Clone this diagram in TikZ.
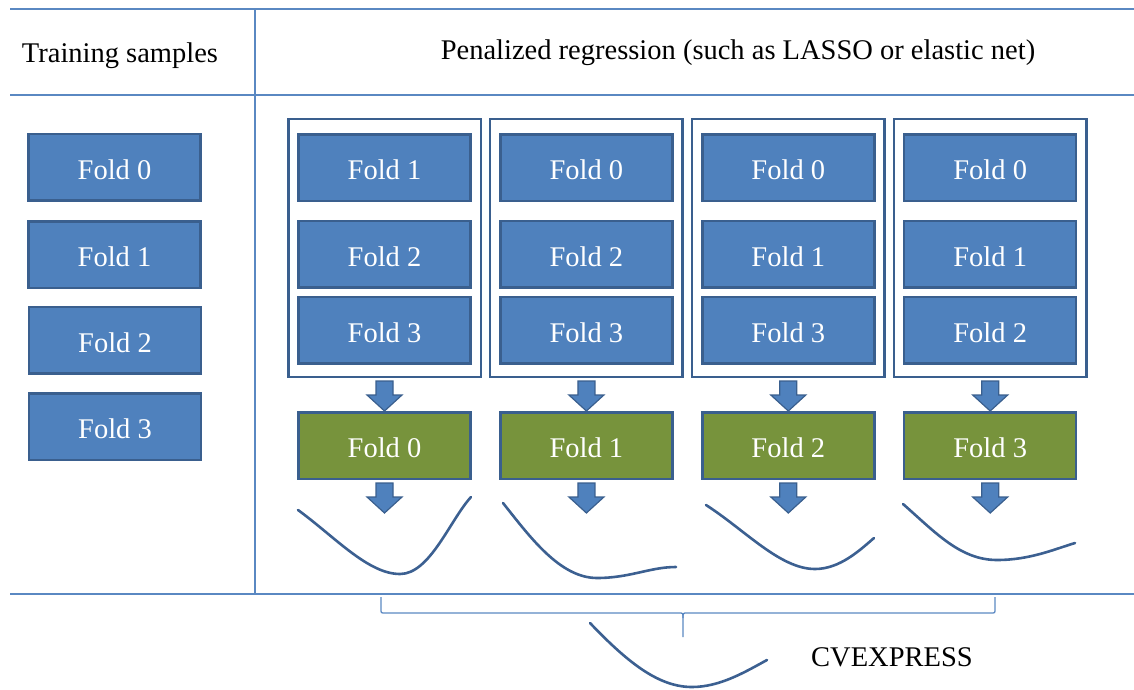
\documentclass[tikz,border=0pt]{standalone}
\usepackage{fontspec}
\setmainfont{Liberation Serif}
\usetikzlibrary{calc}
\definecolor{boxblue}{HTML}{4F81BD}
\definecolor{boxedge}{HTML}{3A5F8E}
\definecolor{boxgreen}{HTML}{77933C}
\definecolor{linecol}{HTML}{5A88C2}
\definecolor{curvecol}{HTML}{3C6091}
\tikzset{
  txt/.style={font=\fontsize{28.5}{34}\selectfont, inner sep=0pt},
  fold/.style={draw=boxedge, line width=2.5pt, fill=boxblue, minimum width=172pt,
    minimum height=66.5pt, inner sep=0pt, text=white, text height=24pt, text depth=0pt,
    font=\fontsize{28.5}{34}\selectfont},
  testfold/.style={fold, fill=boxgreen},
  grpbox/.style={draw=boxedge, line width=2.5pt, fill=white, minimum width=192.5pt,
    minimum height=257.5pt, inner sep=0pt},
  tableline/.style={draw=linecol, line width=1.5pt},
  curve/.style={draw=curvecol, line width=2.6pt, line cap=round},
  bracestyle/.style={draw=linecol, line width=1.3pt},
  barrow/.style={fill=boxblue, draw=boxedge, line width=1.2pt, line join=miter}
}
\newcommand{\blockarr}[2]{%
  \draw[barrow] let \p1=(#1), \p2=(#2) in
    (\x1-8.5pt,\y1-3pt) -- (\x1+8.5pt,\y1-3pt) -- (\x1+8.5pt,\y2+16pt) --
    (\x1+17.5pt,\y2+16pt) -- (\x1,\y2) -- (\x1-17.5pt,\y2+16pt) --
    (\x1-8.5pt,\y2+16pt) -- cycle;}
\begin{document}
\begin{tikzpicture}[x=1pt,y=-1pt]
\useasboundingbox (0,0) rectangle (1134,690);
% table
\draw[tableline] (10,9) -- (1134,9);
\draw[tableline] (10,95) -- (1134,95);
\draw[tableline] (10,594) -- (1134,594);
\draw[tableline] (255,9) -- (255,594);
\node[txt, anchor=base] (hdrA) at (120,63) {Training samples};
\node[txt, anchor=base] (hdrB) at (738,60) {Penalized regression (such as LASSO or elastic net)};
% training folds
\node[fold] (L0) at (114.5,167) {Fold 0};
\node[fold] (L1) at (114.5,254.5) {Fold 1};
\node[fold] (L2) at (115,340) {Fold 2};
\node[fold] (L3) at (115,426.5) {Fold 3};
% groups
\foreach \i/\a/\b/\c/\t in {1/1/2/3/0, 2/0/2/3/1, 3/0/1/3/2, 4/0/1/2/3} {
  \pgfmathsetmacro{\cx}{384.5+201.9*(\i-1)}
  \node[grpbox] (o\i) at (\cx,248) {};
  \node[fold] (f\i a) at (\cx,167.5) {Fold \a};
  \node[fold] (f\i b) at (\cx,254) {Fold \b};
  \node[fold] (f\i c) at (\cx,330) {Fold \c};
  \node[testfold] (g\i) at (\cx,445.5) {Fold \t};
  \coordinate (t\i) at (\cx,513);
  \blockarr{o\i.south}{g\i.north}
  \blockarr{g\i.south}{t\i}
}
% error curves
\draw[curve] (298,510) .. controls (335,537) and (368,574) .. (400,574)
  .. controls (430,574) and (450,520) .. (471,497);
\draw[curve] (503,503) .. controls (530,537) and (560,578) .. (597,578)
  .. controls (630,578) and (650,567) .. (676,567);
\draw[curve] (706,505) .. controls (745,530) and (780,569) .. (815,569)
  .. controls (840,569) and (860,550) .. (874,538);
\draw[curve] (903,504) .. controls (935,532) and (960,560) .. (997,560)
  .. controls (1030,560) and (1055,549) .. (1075,543);
% brace
\draw[bracestyle] (381,597) -- (381,609) .. controls (381,613) .. (385,613) -- (679,613)
  .. controls (683,613) .. (683,618) -- (683,637);
\draw[bracestyle] (683,618) .. controls (683,613) .. (687,613) -- (991,613)
  .. controls (995,613) .. (995,609) -- (995,597);
% combined curve
\draw[curve] (590,623) .. controls (630,665) and (660,687) .. (692,687)
  .. controls (720,687) and (745,672) .. (767,660);
\node[txt, anchor=base] (cvx) at (892,666) {CVEXPRESS};
\end{tikzpicture}
\end{document}
